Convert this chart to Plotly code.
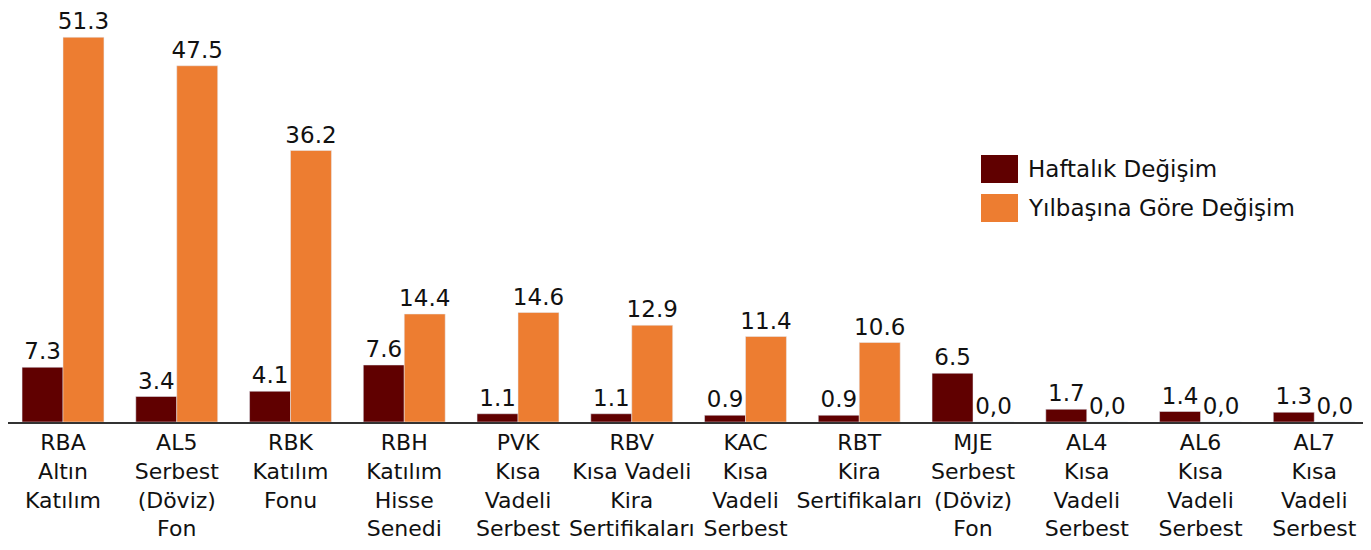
import plotly.graph_objects as go

categories = [
    "RBA<br>Altın<br>Katılım",
    "AL5<br>Serbest<br>(Döviz)<br>Fon",
    "RBK<br>Katılım<br>Fonu",
    "RBH<br>Katılım<br>Hisse<br>Senedi",
    "PVK<br>Kısa<br>Vadeli<br>Serbest",
    "RBV<br>Kısa Vadeli<br>Kira<br>Sertifikaları",
    "KAC<br>Kısa<br>Vadeli<br>Serbest",
    "RBT<br>Kira<br>Sertifikaları",
    "MJE<br>Serbest<br>(Döviz)<br>Fon",
    "AL4<br>Kısa<br>Vadeli<br>Serbest",
    "AL6<br>Kısa<br>Vadeli<br>Serbest",
    "AL7<br>Kısa<br>Vadeli<br>Serbest",
]
weekly = [7.3, 3.4, 4.1, 7.6, 1.1, 1.1, 0.9, 0.9, 6.5, 1.7, 1.4, 1.3]
ytd = [51.3, 47.5, 36.2, 14.4, 14.6, 12.9, 11.4, 10.6, 0.0, 0.0, 0.0, 0.0]
series_names = ["Haftalık Değişim", "Yılbaşına Göre Değişim"]

DARK = "#600000"
ORANGE = "#ED7D31"
FONT = "DejaVu Sans"
FS_VAL = 23
FS_TICK = 22
FS_LEG = 23

def fmt(v):
    return "0,0" if v == 0 else f"{v:.1f}"

fig = go.Figure()
for vals, name, col in [(weekly, series_names[0], DARK), (ytd, series_names[1], ORANGE)]:
    fig.add_trace(go.Bar(x=list(range(len(categories))), y=vals, name=name,
                         marker_color=col, text=[fmt(v) for v in vals],
                         textposition="outside", cliponaxis=False, constraintext="none",
                         textfont=dict(family=FONT, size=FS_VAL, color="#111")))

# page has an 8px body margin; figure occupies page x 8..1371, y 8..550
OFF = 8
W, H = 1371 - OFF, 550 - OFF
ml, mr, mt, mb = 0, 0, 14, 128
pw, ph = W - ml - mr, H - mt - mb
cat_w = 113.75
first_center = 63 - OFF - ml
scale = 7.5  # px per unit

def px(x):
    return (x - OFF - ml) / pw

def py(y):
    return (H - mb - (y - OFF)) / ph

shapes = []
annotations = []
legend_rows = [(155, 183, DARK, series_names[0], 169), (194, 222, ORANGE, series_names[1], 208)]
for y0, y1, col, name, yc in legend_rows:
    shapes.append(dict(type="rect", xref="paper", yref="paper",
                       x0=px(981), x1=px(1018), y0=py(y1), y1=py(y0),
                       fillcolor=col, line=dict(width=0)))
    annotations.append(dict(xref="paper", yref="paper", x=px(1026), y=py(yc),
                            text=name, showarrow=False, xanchor="left", yanchor="middle",
                            font=dict(family=FONT, size=FS_LEG, color="#111")))

fig.update_layout(
    width=W, height=H,
    margin=dict(l=ml, r=mr, t=mt, b=mb),
    plot_bgcolor="white", paper_bgcolor="white",
    barmode="group", bargap=0.28, bargroupgap=0,
    showlegend=False,
    font=dict(family=FONT, size=FS_TICK, color="#111"),
    shapes=shapes, annotations=annotations,
    xaxis=dict(tickmode="array", tickvals=list(range(len(categories))), ticktext=categories,
               showline=True, linecolor="#333", linewidth=2, showgrid=False,
               ticks="", tickfont=dict(family=FONT, size=FS_TICK, color="#111"),
               range=[-first_center / cat_w, (pw - first_center) / cat_w]),
    yaxis=dict(visible=False, range=[0, ph / scale]),
)

fig.write_html("out.html")
